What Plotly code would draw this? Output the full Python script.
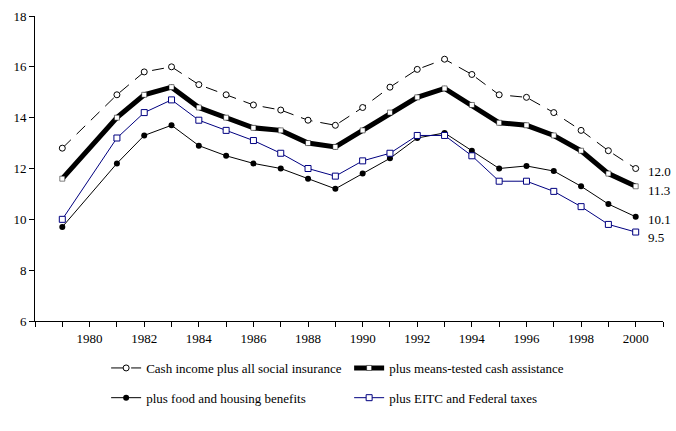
import plotly.graph_objects as go

years = [1979, 1981, 1982, 1983, 1984, 1985, 1986, 1987, 1988, 1989, 1990,
         1991, 1992, 1993, 1994, 1995, 1996, 1997, 1998, 1999, 2000]
social_ins = [12.8, 14.9, 15.8, 16.0, 15.3, 14.9, 14.5, 14.3, 13.9, 13.7, 14.4,
              15.2, 15.9, 16.3, 15.7, 14.9, 14.8, 14.2, 13.5, 12.7, 12.0]
means_tested = [11.6, 14.0, 14.9, 15.2, 14.4, 14.0, 13.6, 13.5, 13.0, 12.85, 13.5,
                14.2, 14.8, 15.15, 14.5, 13.8, 13.7, 13.3, 12.7, 11.8, 11.3]
food_housing = [9.7, 12.2, 13.3, 13.7, 12.9, 12.5, 12.2, 12.0, 11.6, 11.2, 11.8,
                12.4, 13.2, 13.4, 12.7, 12.0, 12.1, 11.9, 11.3, 10.6, 10.1]
eitc_taxes = [10.0, 13.2, 14.2, 14.7, 13.9, 13.5, 13.1, 12.6, 12.0, 11.7, 12.3,
              12.6, 13.3, 13.3, 12.5, 11.5, 11.5, 11.1, 10.5, 9.8, 9.5]
names = ["Cash income plus all social insurance", "plus means-tested cash assistance",
         "plus food and housing benefits", "plus EITC and Federal taxes"]
end_labels = ["12.0", "11.3", "10.1", "9.5"]
tick_years = [1980, 1982, 1984, 1986, 1988, 1990, 1992, 1994, 1996, 1998, 2000]

FONT = "Liberation Serif"
fig = go.Figure()
fig.add_trace(go.Scatter(x=years, y=social_ins, name=names[0], mode="lines+markers",
                         line=dict(color="black", width=1, dash="12px,8px"),
                         marker=dict(symbol="circle", size=6, color="white",
                                     line=dict(color="black", width=1)),
                         legend="legend"))
fig.add_trace(go.Scatter(x=years, y=means_tested, name=names[1], mode="lines+markers",
                         line=dict(color="black", width=5),
                         marker=dict(symbol="square", size=5, color="white",
                                     line=dict(color="black", width=0.5)),
                         legend="legend"))
fig.add_trace(go.Scatter(x=years, y=food_housing, name=names[2], mode="lines+markers",
                         line=dict(color="black", width=1),
                         marker=dict(symbol="circle", size=6, color="black"),
                         legend="legend2"))
fig.add_trace(go.Scatter(x=years, y=eitc_taxes, name=names[3], mode="lines+markers",
                         line=dict(color="#000080", width=1),
                         marker=dict(symbol="square", size=6, color="white",
                                     line=dict(color="#000080", width=1)),
                         legend="legend2"))

ends = [social_ins[-1], means_tested[-1], food_housing[-1], eitc_taxes[-1]]
yshifts = [-3, -4, -3, -5]
for lab, v, ys in zip(end_labels, ends, yshifts):
    fig.add_annotation(x=years[-1], y=v, text=lab, showarrow=False, xanchor="left",
                       xshift=10, yshift=ys, font=dict(family=FONT, size=13, color="black"))

leg_common = dict(orientation="h", xref="container", yref="container", x=0.157,
                  xanchor="left", yanchor="top", entrywidth=198, entrywidthmode="pixels",
                  font=dict(family=FONT, size=13), bgcolor="rgba(0,0,0,0)")
fig.update_layout(
    width=676, height=431, paper_bgcolor="white", plot_bgcolor="white",
    margin=dict(l=35, r=13, t=16, b=110, autoexpand=False),
    font=dict(family=FONT, size=13, color="black"),
    xaxis=dict(range=[1978, 2001], tickmode="array", tickvals=tick_years,
               ticktext=[str(t) for t in tick_years], ticks="outside", ticklen=5,
               tickcolor="black", showline=True, linecolor="black", linewidth=1,
               showgrid=False, zeroline=False, automargin=False,
               minor=dict(dtick=1, tick0=1978, ticks="outside", ticklen=5, tickcolor="black"),
               tickfont=dict(family=FONT, size=13)),
    yaxis=dict(range=[6, 18], dtick=2, ticks="outside", ticklen=5, tickcolor="black",
               showline=True, linecolor="black", linewidth=1, showgrid=False,
               zeroline=False, automargin=False, tickfont=dict(family=FONT, size=13)),
    legend=dict(y=0.181, **leg_common),
    legend2=dict(y=0.112, **leg_common),
)
fig.write_html("out.html", config={"displayModeBar": False},
               post_script="document.body.style.margin='0px';document.body.style.overflow='hidden';")
